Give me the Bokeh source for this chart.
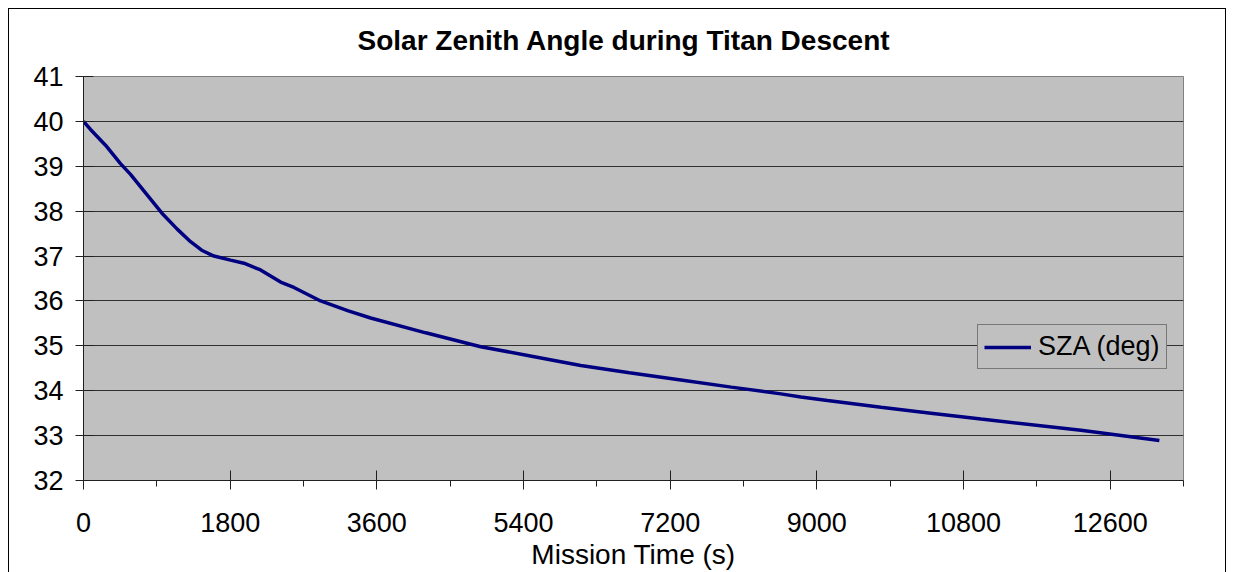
from bokeh.plotting import figure
from bokeh.models import FixedTicker, Range1d, Legend, LegendItem
from bokeh.embed import file_html
from bokeh.resources import INLINE

# Data
mission_time = [0, 86, 270, 454, 577, 863, 960, 1150, 1314, 1450, 1600, 1805,
                1969, 2173, 2419, 2582, 2910, 3250, 3524, 4200, 4875, 5500,
                6103, 6700, 7331, 7950, 8559, 8804, 9132, 9786, 10400, 11014,
                12242, 13204]
sza_deg = [40.0, 39.82, 39.47, 39.06, 38.82, 38.18, 37.96, 37.60, 37.32, 37.13,
           37.00, 36.91, 36.84, 36.69, 36.42, 36.30, 36.00, 35.78, 35.62, 35.29,
           34.98, 34.77, 34.56, 34.40, 34.24, 34.08, 33.93, 33.86, 33.78, 33.63,
           33.50, 33.37, 33.12, 32.89]
x_major = [0, 1800, 3600, 5400, 7200, 9000, 10800, 12600]
x_minor = list(range(0, 13501, 900))
y_ticks = [32, 33, 34, 35, 36, 37, 38, 39, 40, 41]

FONT = "Liberation Sans"

p = figure(width=1226, height=572, output_backend="svg", toolbar_location=None,
           x_range=Range1d(0, 13500), y_range=Range1d(32, 41),
           min_border_left=83, min_border_right=43, min_border_top=76,
           min_border_bottom=91)
# outer chart border (left, top, right) drawn behind a transparent canvas border
p.border_fill_color = None
p.styles = {
    "background-color": "white",
    "box-shadow": "inset 8px 8px 0 0 white, inset 9px 9px 0 0 black, inset -1px 0 0 0 black",
}

p.title.text = "Solar Zenith Angle during Titan Descent"
p.title.text_font = FONT
p.title.text_font_size = "28px"
p.title.text_font_style = "bold"
p.title.align = "left"
p.title.offset = 274
p.title.standoff = 41
p.title.text_color = "black"

p.background_fill_color = "#C0C0C0"
p.outline_line_color = "#808080"
p.outline_line_width = 1

p.xgrid.visible = False
p.ygrid.grid_line_color = "#303030"
p.ygrid.grid_line_width = 1
p.ygrid.ticker = FixedTicker(ticks=y_ticks)

p.xaxis.ticker = FixedTicker(ticks=x_major, minor_ticks=x_minor)
p.yaxis.ticker = FixedTicker(ticks=y_ticks)

for ax in (p.xaxis[0], p.yaxis[0]):
    ax.axis_line_color = "#202020"
    ax.major_tick_line_color = "#202020"
    ax.minor_tick_line_color = "#202020"
    ax.major_label_text_font = FONT
    ax.major_label_text_font_size = "27px"
    ax.major_label_text_color = "black"
    ax.axis_label_text_font = FONT
    ax.axis_label_text_font_size = "28px"
    ax.axis_label_text_font_style = "normal"
    ax.axis_label_text_color = "black"

p.xaxis.major_tick_in = 10
p.xaxis.major_tick_out = 9
p.xaxis.minor_tick_in = 0
p.xaxis.minor_tick_out = 6
p.xaxis.major_label_standoff = 23
p.xaxis.axis_label = "Mission Time (s)"
p.xaxis.axis_label_standoff = 4

p.yaxis.major_tick_in = 10
p.yaxis.major_tick_out = 8
p.yaxis.minor_tick_line_color = None
p.yaxis.major_label_standoff = 12

r = p.line(mission_time, sza_deg, line_color="#000080", line_width=3.5)

legend = Legend(items=[LegendItem(label="SZA (deg)", renderers=[r])],
                location=(894, 111))
legend.label_text_font = FONT
legend.label_text_font_size = "27px"
legend.label_text_color = "black"
legend.background_fill_color = "#C0C0C0"
legend.background_fill_alpha = 1
legend.border_line_color = "#303030"
legend.border_line_width = 1
legend.glyph_width = 47
legend.glyph_height = 20
legend.label_standoff = 7
legend.padding = 6
legend.margin = 0
p.add_layout(legend, "center")

open("out.html", "w").write(file_html(p, INLINE))
